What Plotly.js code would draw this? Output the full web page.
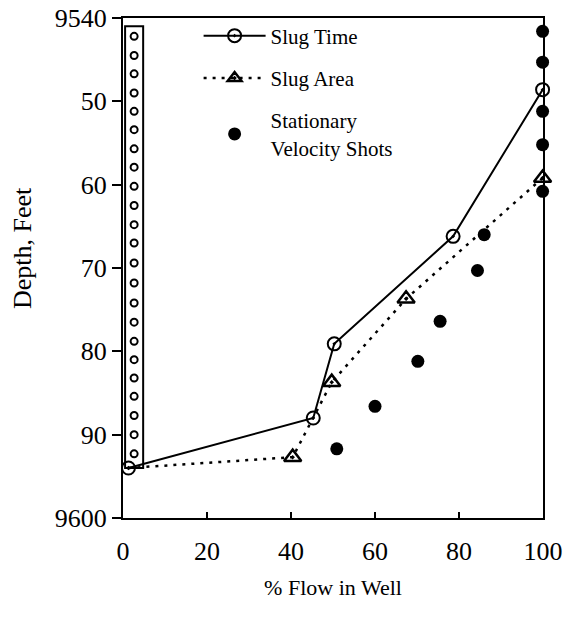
<!DOCTYPE html>
<html>
<head>
<meta charset="utf-8">
<script src="https://cdn.plot.ly/plotly-3.0.1.min.js"></script>
<style>html,body{margin:0;padding:0;background:#fff;}#chart{width:575px;height:618px;}</style>
</head>
<body>
<div id="chart"></div>
<script>
// Data
const slugTimeFlow = [1.3, 45.3, 50.3, 78.6, 99.9];
const slugTimeDepth = [9594, 9588, 9579.1, 9566.2, 9548.6];
const slugAreaFlow = [1.3, 40.4, 49.7, 67.4, 99.9];
const slugAreaDepth = [9594, 9592.7, 9583.7, 9573.7, 9559.2];
const shotFlow = [50.9, 60.0, 70.2, 75.5, 84.4, 86.0, 99.9, 99.9, 99.9, 99.9, 99.9];
const shotDepth = [9591.7, 9586.6, 9581.2, 9576.4, 9570.3, 9566.0, 9541.6, 9545.3, 9551.2, 9555.2, 9560.8];
const casingFlow = [0.5, 4.8];
const casingDepth = [9541, 9594];
const casingDotDepths = [9542.2, 9544.5, 9546.7, 9549.0, 9551.2, 9553.4, 9555.7, 9557.9, 9560.2, 9562.5, 9564.8, 9567.0, 9569.4, 9571.8, 9574.2, 9576.5, 9578.8, 9581.0, 9583.2, 9585.4, 9587.7, 9590.0, 9592.3];
const xTickVals = [0, 20, 40, 60, 80, 100];
const yTickVals = [9540, 9550, 9560, 9570, 9580, 9590, 9600];
const yTickText = ['9540', '50', '60', '70', '80', '90', '9600'];
const seriesNames = ['Slug Time', 'Slug Area', 'Stationary<br>Velocity Shots'];
const xTitle = '% Flow in Well';
const yTitle = 'Depth, Feet';

const serif = 'Liberation Serif, Times New Roman, serif';
const casingMid = (casingFlow[0] + casingFlow[1]) / 2;

const traces = [
  {
    x: casingDotDepths.map(() => casingMid), y: casingDotDepths,
    mode: 'markers', showlegend: false, cliponaxis: false,
    marker: {symbol: 'circle-open', size: 7, color: '#000', line: {width: 2, color: '#000'}},
    hoverinfo: 'skip'
  },
  {
    x: slugTimeFlow, y: slugTimeDepth, name: seriesNames[0], legendgroup: 'a',
    mode: 'lines+markers', cliponaxis: false,
    line: {color: '#000', width: 2},
    marker: {symbol: 'circle-open-dot', size: 13, color: '#000', line: {width: 2, color: '#000'}}
  },
  {
    x: slugAreaFlow, y: slugAreaDepth, name: seriesNames[1], legendgroup: 'b',
    mode: 'lines+markers', cliponaxis: false,
    line: {color: '#000', width: 2.5, dash: '3px,6px'},
    marker: {symbol: 'triangle-up-open-dot', size: slugAreaFlow.map((v, i) => i === 0 ? 0.1 : 15), color: '#000', opacity: 1, line: {width: 2.5, color: '#000'}}
  },
  {
    x: shotFlow, y: shotDepth, name: seriesNames[2], legendgroup: 'c',
    mode: 'markers', cliponaxis: false,
    marker: {symbol: 'circle', size: 13, color: '#000'}
  }
];

const layout = {
  width: 575, height: 618,
  margin: {l: 123, r: 32, t: 18, b: 100},
  paper_bgcolor: '#fff', plot_bgcolor: '#fff',
  font: {family: serif, color: '#000', size: 22},
  xaxis: {
    range: [0, 100], tickvals: xTickVals, ticks: 'inside', ticklen: 6, tickwidth: 2, tickcolor: '#000',
    showline: true, linewidth: 2, linecolor: '#000', mirror: true, showgrid: false, zeroline: false,
    tickfont: {family: serif, size: 26}, ticklabelstandoff: 9, fixedrange: true,
    title: {text: xTitle, font: {family: serif, size: 22}, standoff: 14}
  },
  yaxis: {
    range: [9600, 9540], tickvals: yTickVals, ticktext: yTickText, ticks: 'outside', ticklen: 9, tickwidth: 2, tickcolor: '#000',
    showline: true, linewidth: 2, linecolor: '#000', mirror: true, showgrid: false, zeroline: false,
    tickfont: {family: serif, size: 26}, fixedrange: true
  },
  legend: {
    x: 0.18, y: 1.005, xanchor: 'left', yanchor: 'top',
    bgcolor: 'rgba(0,0,0,0)', borderwidth: 0, traceorder: 'grouped',
    font: {family: serif, size: 21, color: '#000'},
    itemwidth: 62, tracegroupgap: 12
  },
  annotations: [
    {text: yTitle, xref: 'paper', yref: 'paper', x: -0.238, y: 0.54, xanchor: 'center', yanchor: 'middle',
     textangle: -90, showarrow: false, font: {family: serif, size: 26, color: '#000'}}
  ],
  shapes: [
    {type: 'rect', xref: 'x', yref: 'y', x0: casingFlow[0], x1: casingFlow[1], y0: casingDepth[0], y1: casingDepth[1],
     line: {color: '#000', width: 2}, fillcolor: 'rgba(0,0,0,0)', layer: 'below'}
  ]
};

Plotly.newPlot('chart', traces, layout, {displayModeBar: false, staticPlot: true});
</script>
</body>
</html>
